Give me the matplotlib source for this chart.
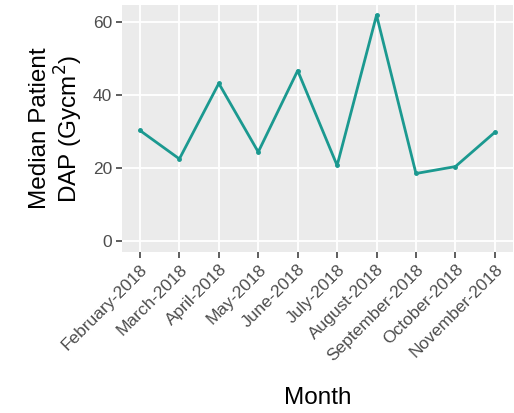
import matplotlib
matplotlib.use('Agg')
import matplotlib.pyplot as plt

months = ['February-2018', 'March-2018', 'April-2018', 'May-2018', 'June-2018',
          'July-2018', 'August-2018', 'September-2018', 'October-2018', 'November-2018']
dap = [30.2, 22.4, 43.1, 24.3, 46.6, 20.6, 61.8, 18.4, 20.3, 29.7]

plt.rcParams['font.family'] = ['Liberation Sans', 'DejaVu Sans']

fig = plt.figure(figsize=(5.14, 4.13), dpi=100)
ax = fig.add_axes([0.237, 0.39, 0.761, 0.598])
ax.set_facecolor('#EBEBEB')
for s in ax.spines.values():
    s.set_visible(False)

x = list(range(len(months)))
ax.plot(x, dap, color='#1b9990', lw=2, marker='o', ms=2.5, zorder=3)

ax.set_xlim(-0.46, len(months) - 1 + 0.46)
ax.set_ylim(-3.1, 64.6)
ax.set_yticks([0, 20, 40, 60])
ax.set_xticks(x)
ax.set_xticklabels(months, rotation=45, ha='right', va='top', rotation_mode='anchor')
ax.grid(True, color='white', lw=1.3)
ax.set_axisbelow(True)
ax.tick_params(axis='both', colors='#333333', labelcolor='#4d4d4d', labelsize=12.5,
               length=4, width=1.1, pad=3)

ax.set_xlabel('Month', fontsize=17.5, labelpad=17)
ax.set_ylabel('Median Patient\nDAP (Gycm$^2$)', fontsize=17.5, labelpad=6, linespacing=1.05)

fig.savefig('out.png', dpi=100)
